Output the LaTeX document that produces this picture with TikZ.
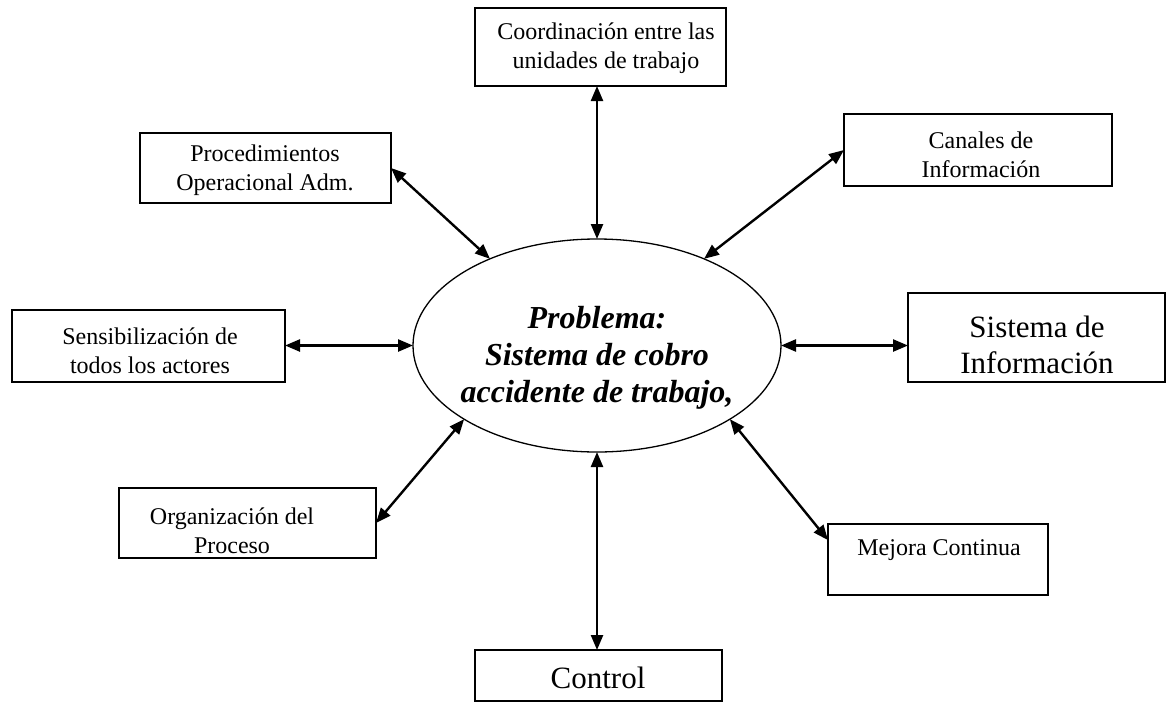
\documentclass[tikz,border=0pt]{standalone}
\usepackage{fontspec}
\setmainfont{Liberation Serif}
\usetikzlibrary{arrows.meta,shapes.geometric}
\begin{document}
\begin{tikzpicture}[x=1pt,y=-1pt,
  box/.style={draw,line width=1.6pt,inner sep=0pt,outer sep=0pt},
  small/.style={align=center,inner sep=0pt,font=\fontsize{24}{29}\selectfont},
  big/.style={align=center,inner sep=0pt,font=\fontsize{31}{36}\selectfont},
  link/.style={line width=2.4pt,{Triangle[length=15pt,width=12pt]}-{Triangle[length=15pt,width=12pt]}}]
\useasboundingbox (0,0) rectangle (1171,702);
% central ellipse
\node[draw,ellipse,line width=1.3pt,minimum width=368,minimum height=213,inner sep=0pt,outer sep=0pt] (prob) at (597,345.5) {};
\node[align=center,inner sep=0pt,font=\fontsize{32}{37}\selectfont\bfseries\itshape] (probtxt) at (597,358) {Problema:\\Sistema de cobro\\accidente de trabajo,};
% boxes
\node[box,minimum width=251,minimum height=78] (coord) at (600.5,47) {};
\node[small] (coordtxt) at (606,48) {Coordinación entre las\\unidades de trabajo};
\node[box,minimum width=268,minimum height=72] (canales) at (978,150) {};
\node[small] (canalestxt) at (981,155) {Canales de\\Información};
\node[box,minimum width=251,minimum height=70] (proc) at (265.5,168) {};
\node[small] (proctxt) at (265,170) {Procedimientos\\Operacional Adm.};
\node[box,minimum width=273,minimum height=72] (sens) at (148.5,346) {};
\node[small] (senstxt) at (150,351) {Sensibilización de\\todos los actores};
\node[box,minimum width=257,minimum height=89] (sist) at (1036.5,337.5) {};
\node[big] (sisttxt) at (1037,345) {Sistema de\\Información};
\node[box,minimum width=257,minimum height=70] (org) at (247.5,523) {};
\node[small] (orgtxt) at (232,531) {Organización del\\Proceso};
\node[box,minimum width=220,minimum height=71] (mejora) at (938,559.5) {};
\node[small] (mejoratxt) at (939,550) {Mejora Continua};
\node[box,minimum width=247,minimum height=51] (control) at (598.5,675.5) {};
\node[big] (controltxt) at (598,678) {Control};
% connectors
\draw[link] (prob.north) -- (prob.north |- coord.south);
\draw[link] (prob.39) -- (canales.west);
\draw[link] (prob.141) -- (proc.east);
\draw[link] (prob.west) -- (prob.west -| sens.east);
\draw[link] (prob.east) -- (prob.east -| sist.west);
\draw[link] (prob.209) -- (org.east);
\draw[link] (prob.331) -- (mejora.170);
\draw[link] (prob.south) -- (prob.south |- control.north);
\end{tikzpicture}
\end{document}
